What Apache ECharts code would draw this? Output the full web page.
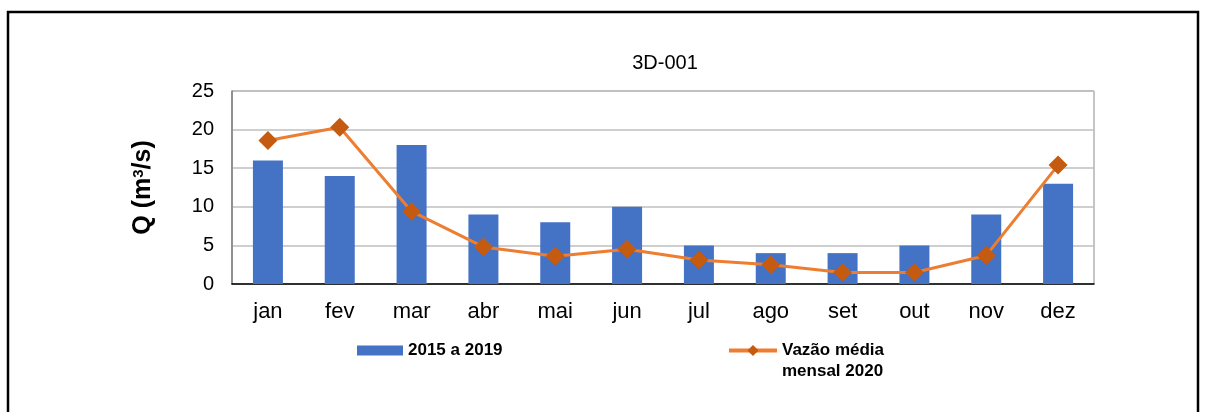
<!DOCTYPE html>
<html>
<head>
<meta charset="utf-8">
<script src="https://cdn.jsdelivr.net/npm/echarts@6/dist/echarts.min.js"></script>
<style>
  html, body { margin: 0; padding: 0; background: #fff; }
  #chart { width: 1206px; height: 412px; }
</style>
</head>
<body>
<div id="chart"></div>
<script>
// dados
const months = ['jan', 'fev', 'mar', 'abr', 'mai', 'jun', 'jul', 'ago', 'set', 'out', 'nov', 'dez'];
const hist2015a2019 = [16, 14, 18, 9, 8, 10, 5, 4, 4, 5, 9, 13];
const vazao2020 = [18.6, 20.3, 9.4, 4.8, 3.6, 4.5, 3.1, 2.5, 1.5, 1.5, 3.7, 15.4];
const yTicks = { min: 0, max: 25, interval: 5 };

const barName = '2015 a 2019';
const lineName = 'Vazão média mensal 2020';
const font = '"Liberation Sans", Arial, sans-serif';

const myChart = echarts.init(document.getElementById('chart'));
myChart.setOption({
  animation: false,
  textStyle: { fontFamily: font },
  graphic: [{
    type: 'rect',
    shape: { x: 8, y: 12, width: 1190, height: 440 },
    style: { fill: 'none', stroke: '#000', lineWidth: 2.5 },
    silent: true
  }],
  title: {
    text: '3D-001',
    left: 660,
    textAlign: 'center',
    top: 48,
    textStyle: { fontSize: 20, fontWeight: 'normal', color: '#000', fontFamily: font }
  },
  legend: [{
    data: [{ name: barName, icon: 'rect' }],
    left: 357,
    top: 342,
    padding: 0,
    itemWidth: 46,
    itemHeight: 10,
    textStyle: { fontSize: 17, fontWeight: 'bold', color: '#000', fontFamily: font }
  }, {
    data: [lineName],
    left: 727,
    top: 319,
    padding: 0,
    itemWidth: 48,
    itemHeight: 14,
    lineStyle: { width: 4, color: '#ED7D31' },
    // linha vazia no topo para o ícone ficar alinhado com a 1a linha
    formatter: () => '\nVazão média\nmensal 2020',
    textStyle: { fontSize: 17, fontWeight: 'bold', color: '#000', fontFamily: font, lineHeight: 21 }
  }],
  grid: {
    left: 232,
    right: 112,
    top: 91,
    bottom: 128,
    show: true,
    borderColor: '#8c8c8c',
    borderWidth: 1
  },
  xAxis: {
    type: 'category',
    data: months,
    axisLine: { lineStyle: { color: '#000', width: 1.5 } },
    axisTick: { show: false },
    axisLabel: { fontSize: 22, color: '#000', margin: 17 }
  },
  yAxis: {
    type: 'value',
    min: yTicks.min,
    max: yTicks.max,
    interval: yTicks.interval,
    name: '{t|Q (m}{s|3}{t|/s)}',
    nameLocation: 'middle',
    nameGap: 76,
    nameTextStyle: {
      color: '#000',
      rich: {
        t: { fontSize: 25, fontWeight: 'bold', color: '#000', fontFamily: font },
        s: { fontSize: 15, fontWeight: 'bold', color: '#000', fontFamily: font, verticalAlign: 'top' }
      }
    },
    axisLine: { show: true, lineStyle: { color: '#7f7f7f', width: 1.5 } },
    axisTick: { show: false },
    axisLabel: { fontSize: 20, color: '#000', margin: 18 },
    splitLine: { lineStyle: { color: '#bfbfbf', width: 1.5 } }
  },
  series: [{
    name: barName,
    type: 'bar',
    data: hist2015a2019,
    barWidth: 30,
    itemStyle: { color: '#4472C4' }
  }, {
    name: lineName,
    type: 'line',
    data: vazao2020,
    symbol: 'diamond',
    symbolSize: 19,
    lineStyle: { color: '#ED7D31', width: 3 },
    itemStyle: { color: '#C55A11' },
    z: 3
  }]
});
</script>
</body>
</html>
